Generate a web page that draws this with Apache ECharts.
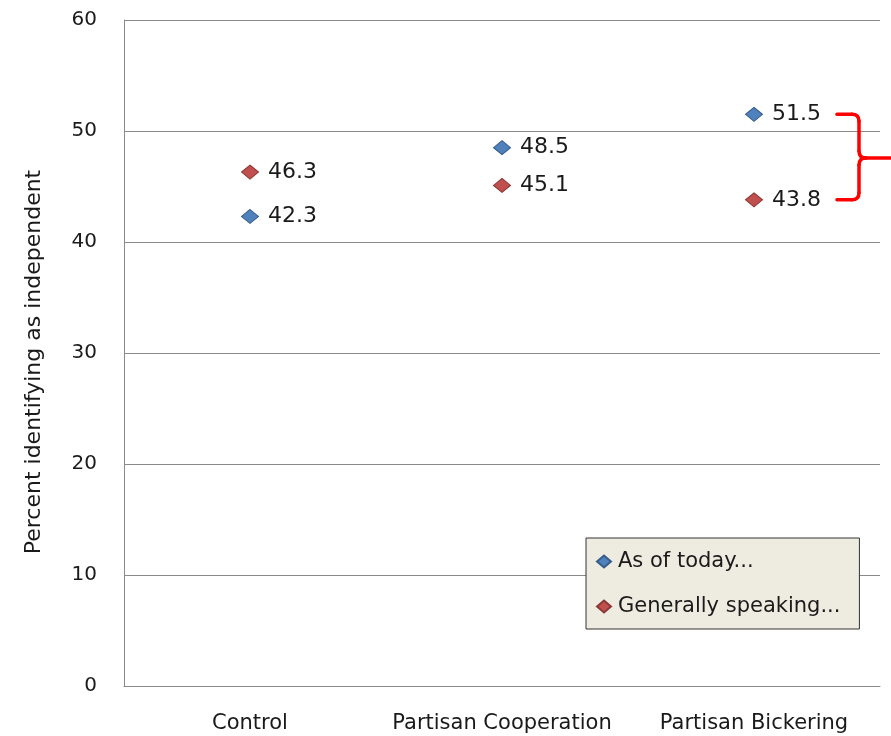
<!DOCTYPE html>
<html>
<head>
<meta charset="utf-8">
<script src="https://cdn.jsdelivr.net/npm/echarts@6/dist/echarts.min.js"></script>
<style>
  html, body { margin: 0; padding: 0; background: #fff; }
  #chart { width: 891px; height: 736px; }
</style>
</head>
<body>
<div id="chart"></div>
<script>
// Share identifying as independent, by experimental condition
const categories = ['Control', 'Partisan Cooperation', 'Partisan Bickering'];
const asOfToday = [42.3, 48.5, 51.5];
const generallySpeaking = [46.3, 45.1, 43.8];
const yTicks = { min: 0, max: 60, interval: 10 };

const FONT = '"DejaVu Sans", sans-serif';
const TEXT = '#1a1a1a';
const AXIS_GREY = '#8a8a8a';

const chart = echarts.init(document.getElementById('chart'));

function seriesOf(name, data, fill, stroke) {
  return {
    name: name,
    type: 'scatter',
    data: data,
    symbol: 'diamond',
    symbolSize: [17, 14],
    itemStyle: { color: fill, borderColor: stroke, borderWidth: 1, opacity: 1 },
    label: {
      show: true,
      position: 'right',
      distance: 9,
      color: TEXT,
      fontFamily: FONT,
      fontSize: 22,
      formatter: p => p.value.toFixed(1)
    },
    emphasis: { disabled: true },
    z: 3
  };
}

chart.setOption({
  animation: false,
  backgroundColor: '#fff',
  grid: { left: 124, right: 11, top: 20, bottom: 50 },
  xAxis: {
    type: 'category',
    data: categories,
    boundaryGap: true,
    axisLine: { show: true, lineStyle: { color: AXIS_GREY, width: 1 } },
    axisTick: { show: false },
    axisLabel: { color: TEXT, fontFamily: FONT, fontSize: 21, margin: 27, interval: 0 },
    splitLine: { show: false }
  },
  yAxis: {
    type: 'value',
    min: yTicks.min,
    max: yTicks.max,
    interval: yTicks.interval,
    name: 'Percent identifying as independent',
    nameLocation: 'middle',
    nameGap: 79,
    nameTextStyle: { color: TEXT, fontFamily: FONT, fontSize: 22, padding: [0, 18, 0, 0] },
    axisLine: { show: true, lineStyle: { color: AXIS_GREY, width: 1 } },
    axisTick: { show: false },
    axisLabel: { color: TEXT, fontFamily: FONT, fontSize: 20, margin: 27 },
    splitLine: { show: true, lineStyle: { color: AXIS_GREY, width: 1 } }
  },
  legend: {
    orient: 'vertical',
    left: 586,
    top: 538,
    padding: [13, 19, 12, 10],
    itemGap: 24,
    itemWidth: 14,
    itemHeight: 12,
    icon: 'diamond',
    backgroundColor: '#EEECE1',
    borderColor: '#333',
    borderWidth: 1,
    textStyle: { color: TEXT, fontFamily: FONT, fontSize: 21, padding: [0, 0, 0, 2] },
    data: ['As of today...', 'Generally speaking...']
  },
  series: [
    seriesOf('As of today...', asOfToday, '#4F81BD', '#385D8A'),
    seriesOf('Generally speaking...', generallySpeaking, '#C0504D', '#8C3836')
  ]
});

// Red brace spanning the two Partisan Bickering values
const lastIdx = categories.length - 1;
const [, yTop] = chart.convertToPixel({ gridIndex: 0 }, [lastIdx, asOfToday[lastIdx]]);
const [, yBot] = chart.convertToPixel({ gridIndex: 0 }, [lastIdx, generallySpeaking[lastIdx]]);
const [xc] = chart.convertToPixel({ gridIndex: 0 }, [lastIdx, 0]);
const x0 = xc + 83, xs = xc + 105, xt = xc + 145;
const yMid = (yTop + yBot) / 2 + 1;
const r = 7;

const braceStyle = { fill: null, stroke: '#FF0000', lineWidth: 3.5, lineCap: 'round' };
const seg = (x1, y1, x2, y2) => ({ type: 'line', shape: { x1, y1, x2, y2 }, style: braceStyle, z: 10 });
const curve = (x1, y1, cx, cy, x2, y2) => ({
  type: 'bezierCurve', shape: { x1, y1, cpx1: cx, cpy1: cy, x2, y2 }, style: braceStyle, z: 10
});

chart.setOption({
  graphic: [
    seg(x0, yTop, xs - r, yTop),
    curve(xs - r, yTop, xs, yTop, xs, yTop + r),
    seg(xs, yTop + r, xs, yMid - r),
    curve(xs, yMid - r, xs, yMid, xs + r, yMid),
    seg(xs + r, yMid, xt, yMid),
    curve(xs + r, yMid, xs, yMid, xs, yMid + r),
    seg(xs, yMid + r, xs, yBot - r),
    curve(xs, yBot - r, xs, yBot, xs - r, yBot),
    seg(xs - r, yBot, x0, yBot)
  ]
});
</script>
</body>
</html>
